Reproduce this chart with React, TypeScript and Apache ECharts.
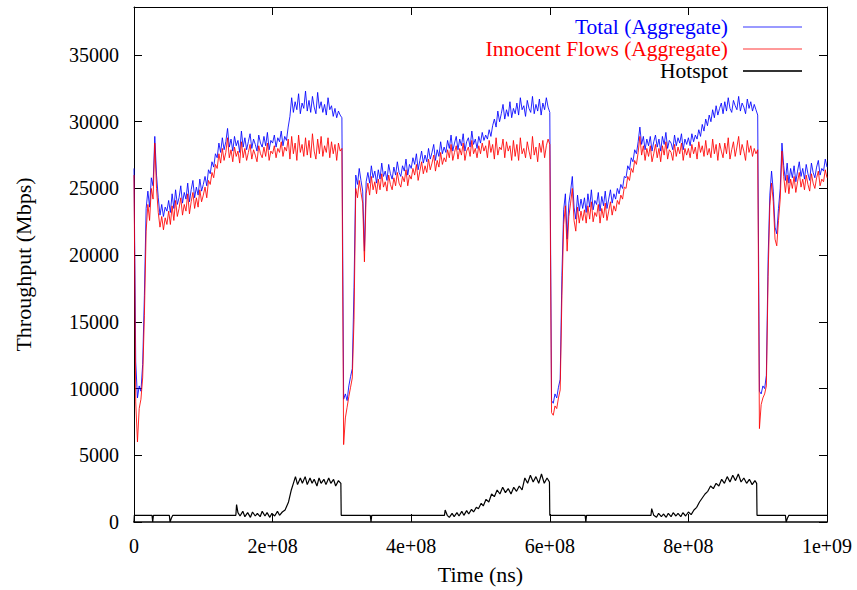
import React, { useEffect, useRef } from "react";
import * as echarts from "echarts";

// time grid step (ns) for the aggregate series
const STEP_NS = 2.5e6;

// Total (Aggregate) throughput, Mbps, one value every 2.5e6 ns from 0 to 1e9
const totalValues: number[] = [
  26500, 12000, 9300, 10200, 9800, 11800, 17000, 23500, 24800, 23600, 25800, 25200, 28900, 26000, 24300, 23000, 23800, 22900, 23600, 23300,
  24100, 23200, 24600, 23500, 24900, 23800, 24300, 25200, 23900, 24700, 24200, 25400, 24000, 24900, 25600, 24300, 25100, 24500, 25700, 24800,
  25300, 25900, 25200, 26400, 26100, 27000, 26600, 27600, 27300, 28400, 27700, 28800, 27900, 28500, 29500, 28100, 28700, 27800, 28900, 28200,
  28600, 27700, 29300, 28100, 28800, 27900, 28500, 29100, 28000, 28700, 28300, 27800, 29000, 28400, 28100, 28900, 28200, 29200, 27900, 28600,
  28400, 29000, 28100, 28800, 28500, 29300, 28200, 28900, 28600, 29600, 30400, 31800, 30700, 31500, 30900, 32100, 30600, 31400, 31000, 32300,
  30800, 31600, 30700, 31900, 31100, 30600, 32200, 31000, 31500, 30700, 31300, 30500, 31800, 30900, 31200, 30400, 31000, 30300, 30800, 30500,
  30300, 9200, 9600, 9100, 10200, 10900, 11500, 17600, 26000, 25300, 26500, 25600, 24800, 20300, 25500, 26200, 25400, 26700, 25800, 26300,
  25400, 26400, 25700, 26900, 25900, 26300, 25600, 26800, 26100, 25700, 26600, 26000, 27000, 26200, 25900, 26700, 26300, 27200, 26000, 26800,
  26500, 27300, 26800, 27600, 26400, 27100, 27800, 26900, 27500, 27000, 28000, 27200, 27700, 28300, 27100, 27900, 27400, 28500, 27600, 28100,
  27700, 28600, 28000, 29000, 27800, 28400, 28900, 27900, 28700, 28200, 29100, 27800, 28500, 28800, 28100, 29300, 28300, 28700, 28000, 28900,
  28400, 29200, 28600, 29000, 28700, 29400, 28900, 29700, 30200, 29600, 30800, 30000, 30600, 31300, 30200, 30900, 30400, 31500, 30300, 31000,
  30600, 31400, 30500, 31800, 30900, 31200, 30400, 31600, 31000, 30700, 31900, 30600, 31300, 30800, 31700, 30500, 31400, 30900, 31800, 31100,
  30700, 9100, 8900, 9600, 9300, 10100, 10700, 18500, 23400, 24600, 21200, 23900, 24800, 25900, 23600, 22700, 24500, 23300, 24200, 23500,
  24300, 23200, 24600, 23600, 24900, 23400, 24100, 23800, 24700, 23300, 24400, 23700, 24800, 23500, 24200, 24900, 23900, 24600, 24200, 25000,
  24600, 25300, 25000, 25900, 25800, 26700, 26400, 27300, 27000, 27900, 27600, 28500, 29600, 28300, 28900, 27900, 28700, 28200, 28900, 27800,
  28500, 29000, 28100, 28700, 27800, 28900, 28300, 29200, 28000, 28600, 28400, 27900, 29000, 28200, 28800, 28400, 29100, 27900, 28700, 28300,
  28800, 28200, 29100, 28500, 29000, 28700, 29400, 28900, 29800, 29300, 30200, 29700, 30500, 30000, 30900, 30300, 31200, 30500, 31000, 31400,
  30600, 31500, 30800, 31800, 31000, 30700, 31600, 31200, 30900, 31900, 30800, 31400, 31100, 30600, 31700, 31000, 31500, 30800, 31300, 30900,
  30500, 9800, 9600, 10200, 10000, 11000, 19700, 24500, 26300, 24800, 22100, 21600, 23500, 25000, 28400, 26700, 25600, 26900, 25400, 26500,
  25800, 26700, 25500, 26300, 27000, 25900, 26500, 25700, 26800, 26100, 25600, 26900, 26200, 25800, 26600, 27100, 26000, 26500, 26300, 27200,
  26600,
];

// Innocent Flows (Aggregate) throughput, Mbps, same time grid
const innocentValues: number[] = [
  26000, 9000, 6000, 8500, 9200, 10800, 15500, 21800, 23800, 22600, 25000, 24200, 28400, 25000, 23200, 22100, 22900, 21900, 22800, 22300,
  23300, 22300, 23700, 22600, 24100, 22900, 23500, 24300, 23000, 23800, 23300, 24600, 23100, 24000, 24700, 23500, 24300, 23600, 24900, 24000,
  24500, 25100, 24300, 25600, 25300, 26200, 25800, 26800, 26500, 27600, 26900, 28000, 27100, 27700, 28800, 27300, 27900, 27000, 28100, 27400,
  27800, 26900, 28500, 27300, 28000, 27100, 27700, 28300, 27200, 27900, 27500, 27000, 28200, 27600, 27300, 28100, 27400, 28400, 27100, 27800,
  27600, 28200, 27300, 28000, 27700, 28500, 27400, 28100, 27800, 28700, 27200, 28900, 27600, 28400, 27100, 29000, 27700, 28300, 27400, 28800,
  27500, 28600, 27300, 29100, 27800, 27200, 28700, 27600, 28900, 27400, 28200, 27700, 28800, 27300, 28500, 27600, 28300, 27100, 28400, 27800,
  28000, 5800, 7800, 8600, 9400, 10100, 10800, 15200, 25000, 24300, 25600, 24700, 23900, 19500, 24600, 25400, 24500, 25900, 24900, 25500,
  24600, 25700, 24900, 26100, 25100, 25500, 24800, 26000, 25300, 24900, 25800, 25200, 26200, 25400, 25100, 25900, 25500, 26400, 25200, 26000,
  25700, 26500, 26000, 26800, 25600, 26300, 27000, 26100, 26700, 26200, 27200, 26400, 26900, 27500, 26300, 27100, 26600, 27700, 26800, 27300,
  27000, 27900, 27300, 28300, 27100, 27700, 28200, 27200, 28000, 27500, 28400, 27100, 27800, 28100, 27400, 28600, 27600, 28000, 27300, 28200,
  27600, 28400, 27800, 28200, 27300, 28600, 27700, 28300, 27200, 28800, 27500, 28100, 27900, 28700, 27300, 28500, 27800, 28200, 27100, 28600,
  27400, 28300, 27100, 28800, 27600, 28000, 27300, 28500, 27800, 27200, 28900, 27500, 28100, 27000, 28400, 27700, 28600, 27300, 28200, 28700,
  28300, 8200, 8000, 8700, 8500, 9300, 9900, 17000, 22300, 23700, 20300, 22900, 23900, 25000, 22600, 21800, 23600, 22400, 23300, 22600,
  23400, 22400, 23700, 22700, 24000, 22500, 23200, 22900, 23800, 22400, 23500, 22800, 23900, 22600, 23300, 24000, 23000, 23700, 23300, 24100,
  23800, 24500, 24200, 25100, 25000, 25900, 25600, 26500, 26200, 27100, 26800, 27700, 28900, 27500, 28200, 27100, 28000, 27400, 28200, 27000,
  27600, 28300, 27300, 28000, 27000, 28200, 27500, 28500, 27200, 27900, 27700, 27100, 28300, 27400, 28100, 27600, 28400, 27100, 28000, 27500,
  28000, 27300, 28300, 27600, 28100, 27200, 28500, 27700, 28200, 27400, 28600, 27500, 28000, 27300, 28700, 27600, 28300, 27100, 28400, 27800,
  27300, 28400, 27600, 28800, 27200, 27900, 28500, 27400, 28100, 28900, 27500, 28300, 27800, 27100, 28600, 27700, 28200, 27400, 28000, 27600,
  27900, 7000, 8800, 9300, 9600, 10200, 18400, 23700, 25400, 24000, 21200, 20700, 22600, 24200, 27800, 25900, 24700, 26000, 24600, 25700,
  25000, 25900, 24700, 25500, 26200, 25100, 25700, 24900, 26000, 25300, 24800, 26100, 25400, 25000, 25800, 26300, 25200, 25700, 25500, 26400,
  25800,
];

// Hotspot throughput: [time in units of 1e7 ns, Mbps]
const hotspotPoints: [number, number][] = [
  [0, 0], [0.05, 500], [2.6, 500], [2.7, 0], [2.8, 500], [5.1, 500], [5.2, 0], [5.4, 300], [5.6, 500],
  [14.7, 500], [14.8, 1300], [15.0, 700], [15.3, 450], [15.7, 800], [16, 400], [16.4, 700], [16.8, 350],
  [17.1, 750], [17.5, 450], [17.8, 650], [18.2, 400], [18.5, 800], [18.9, 450], [19.2, 700], [19.6, 350],
  [19.9, 650], [20.3, 450], [20.7, 800], [21, 500], [21.4, 750], [21.8, 900], [22.3, 1500], [22.7, 2400],
  [23, 2900], [23.3, 3400], [23.6, 2800], [24, 3300], [24.3, 2900], [24.7, 3400], [25, 2800], [25.4, 3300],
  [25.7, 2900], [26, 3200], [26.4, 2700], [26.7, 3300], [27, 2900], [27.4, 3200], [27.7, 2800], [28.1, 3300],
  [28.4, 2900], [28.8, 3200], [29.1, 2700], [29.5, 3100], [29.85, 2900], [29.9, 500], [34.1, 500], [34.2, 0],
  [34.3, 500], [44.8, 500], [44.9, 900], [45.2, 500], [45.5, 350], [45.9, 650], [46.2, 400], [46.6, 700],
  [46.9, 450], [47.3, 800], [47.6, 500], [48, 850], [48.3, 600], [48.7, 950], [49, 750], [49.4, 1100],
  [49.7, 1000], [50.1, 1400], [50.4, 1200], [50.8, 1700], [51.2, 1500], [51.6, 2100], [52, 1900], [52.4, 2400],
  [52.8, 2100], [53.2, 2600], [53.6, 2200], [54, 2500], [54.4, 2100], [54.8, 2600], [55.2, 2300], [55.6, 2700],
  [56, 2400], [56.4, 3300], [56.8, 2900], [57.2, 3500], [57.6, 3000], [58, 3400], [58.4, 2900], [58.8, 3600],
  [59.2, 2900], [59.6, 3300], [59.95, 3000], [60.0, 500], [65.1, 500], [65.2, 0], [65.3, 500], [74.6, 500],
  [74.7, 1000], [75, 500], [75.4, 350], [75.7, 650], [76.1, 400], [76.4, 600], [76.8, 350], [77.1, 650],
  [77.5, 400], [77.8, 700], [78.2, 450], [78.5, 650], [78.9, 400], [79.2, 700], [79.6, 450], [80, 750],
  [80.4, 550], [80.8, 900], [81.2, 1100], [81.6, 1500], [82, 1800], [82.4, 2100], [82.8, 2300], [83.2, 2700],
  [83.6, 2500], [84, 2900], [84.4, 2700], [84.8, 3200], [85.2, 2900], [85.6, 3400], [86, 3000], [86.4, 3500],
  [86.8, 3100], [87.2, 3600], [87.6, 3000], [88, 3300], [88.4, 2900], [88.8, 3200], [89.2, 2800], [89.6, 3100],
  [89.85, 2900], [89.9, 500], [94.0, 500], [94.1, 0], [94.3, 300], [94.5, 500], [100, 500],
];

const seriesNames = ["Total (Aggregate)", "Innocent Flows (Aggregate)", "Hotspot"];
const xTicks = { min: 0, max: 1e9, interval: 2e8 };
const yTicks = { min: 0, max: 38600, interval: 5000 };

const FONT = "'Liberation Serif', 'DejaVu Serif', serif";

function fmtX(v: number): string {
  if (v === 0) return "0";
  return v.toExponential().replace(/e\+(\d)$/, "e+0$1");
}

export default function App() {
  const ref = useRef<HTMLDivElement>(null);
  useEffect(() => {
    if (!ref.current) return;
    const chart = echarts.init(ref.current, undefined, { renderer: "svg" });
    const totalData = totalValues.map((v, i) => [i * STEP_NS, v]);
    const innocentData = innocentValues.map((v, i) => [i * STEP_NS, v]);
    const hotspotData = hotspotPoints.map(([t, v]) => [t * 1e7, v]);
    const axisLine = { show: true, onZero: false, lineStyle: { color: "#000", width: 1 } };
    const tick = { show: true, inside: true, length: 8, lineStyle: { color: "#000" } };
    chart.setOption({
      animation: false,
      backgroundColor: "#fff",
      grid: { left: 134, right: 30, top: 7, bottom: 67, containLabel: false },
      legend: {
        orient: "vertical",
        right: 55,
        top: 16,
        padding: 0,
        itemGap: 0,
        align: "right",
        itemWidth: 59,
        itemHeight: 2,
        icon: "rect",
        selectedMode: false,
        textStyle: { fontFamily: FONT, fontSize: 21.5, lineHeight: 22, padding: [0, 10, 0, 0] },
        data: [
          { name: seriesNames[0], itemStyle: { color: "#9a9aff" }, textStyle: { color: "#0000ff" } },
          { name: seriesNames[1], itemStyle: { color: "#ff9a9a" }, textStyle: { color: "#ff0000" } },
          { name: seriesNames[2], itemStyle: { color: "#333" }, textStyle: { color: "#000" } },
        ],
      },
      xAxis: [
        {
          type: "value",
          ...xTicks,
          position: "bottom",
          axisLine: { show: true, onZero: false, lineStyle: { color: "#444", width: 2 } },
          axisTick: tick,
          splitLine: { show: false },
          axisLabel: { formatter: fmtX, fontFamily: FONT, fontSize: 20, color: "#000", margin: 14 },
          name: "Time (ns)",
          nameLocation: "middle",
          nameGap: 41,
          nameTextStyle: { fontFamily: FONT, fontSize: 22, color: "#000" },
        },
        {
          type: "value",
          ...xTicks,
          position: "top",
          axisLine,
          axisTick: tick,
          splitLine: { show: false },
          axisLabel: { show: false },
        },
      ],
      yAxis: [
        {
          type: "value",
          ...yTicks,
          position: "left",
          axisLine,
          axisTick: tick,
          splitLine: { show: false },
          axisLabel: {
            showMaxLabel: false,
            formatter: (v: number) => (v % 5000 === 0 ? String(v) : ""),
            fontFamily: FONT,
            fontSize: 20,
            color: "#000",
            margin: 15,
          },
          name: "Throughput (Mbps)",
          nameLocation: "middle",
          nameGap: 100,
          nameRotate: 90,
          nameTextStyle: { fontFamily: FONT, fontSize: 22, color: "#000" },
        },
        {
          type: "value",
          ...yTicks,
          position: "right",
          axisLine,
          axisTick: tick,
          splitLine: { show: false },
          axisLabel: { show: false },
        },
      ],
      series: [
        {
          name: seriesNames[0],
          type: "line",
          data: totalData,
          showSymbol: false,
          symbol: "none",
          lineStyle: { color: "#0000ff", width: 1, opacity: 0.85 },
          itemStyle: { color: "#0000ff" },
          z: 2,
        },
        {
          name: seriesNames[1],
          type: "line",
          data: innocentData,
          showSymbol: false,
          symbol: "none",
          lineStyle: { color: "#ff0000", width: 1, opacity: 0.85 },
          itemStyle: { color: "#ff0000" },
          z: 3,
        },
        {
          name: seriesNames[2],
          type: "line",
          data: hotspotData,
          showSymbol: false,
          symbol: "none",
          lineStyle: { color: "#000", width: 1.2 },
          itemStyle: { color: "#000" },
          z: 4,
        },
      ],
    });
    return () => chart.dispose();
  }, []);
  return (
    <div
      ref={ref}
      style={{ position: "fixed", left: 0, top: 0, width: 857, height: 590, background: "#fff" }}
    />
  );
}
